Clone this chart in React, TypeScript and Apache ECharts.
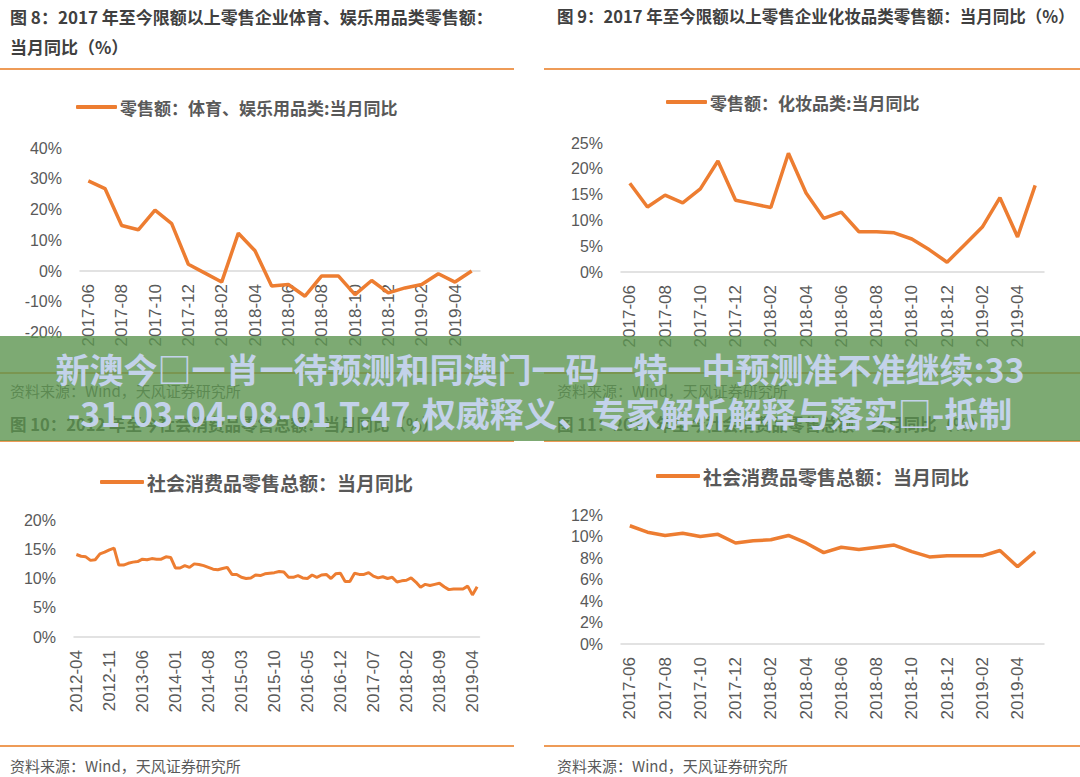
import React, { useEffect, useRef } from "react";
import * as echarts from "echarts";

function months(y: number, m: number, n: number): string[] {
  const out: string[] = [];
  for (let i = 0; i < n; i++) {
    const mm = ((m - 1 + i) % 12) + 1;
    const yy = y + Math.floor((m - 1 + i) / 12);
    out.push(`${yy}-${mm < 10 ? "0" + mm : mm}`);
  }
  return out;
}

// Categories
const catsShort = months(2017, 6, 24); // 2017-06 .. 2019-05
const catsLong = months(2012, 4, 86); // 2012-04 .. 2019-05

// Series names
const name8 = "零售额：体育、娱乐用品类:当月同比";
const name9 = "零售额：化妆品类:当月同比";
const name10 = "社会消费品零售总额：当月同比";

// Values (%)
const sportsYoY = [29.3, 26.8, 14.8, 13.4, 19.8, 15.4, 2.2, -0.7, -3.6, 12.3, 6.6, -4.9,
  -4.4, -8.2, -1.6, -1.6, -7.7, -3.1, -7.1, -5.5, -4.4, -0.9, -3.6, 0.0];
const cosmeticsYoY = [17.2, 12.6, 14.9, 13.4, 16.1, 21.5, 13.9, 13.2, 12.5, 23.0, 15.3, 10.4,
  11.6, 7.8, 7.8, 7.6, 6.4, 4.3, 1.9, 5.3, 8.7, 14.4, 6.8, 16.8];
const retailLong = [
  14.1, 13.8, 13.7, 13.1, 13.2, 14.2, 14.5, 14.9, 15.2,
  12.3, 12.3, 12.6, 12.8, 12.9, 13.3, 13.2, 13.4, 13.3, 13.3, 13.7, 13.6,
  11.8, 11.8, 12.2, 11.9, 12.5, 12.4, 12.2, 11.9, 11.6, 11.5, 11.7, 11.9,
  10.7, 10.7, 10.2, 10.0, 10.1, 10.6, 10.5, 10.8, 10.9, 11.0, 11.2, 11.1,
  10.2, 10.2, 10.5, 10.1, 10.0, 10.6, 10.2, 10.6, 10.7, 10.0, 10.8, 10.9,
  9.5, 9.5, 10.9, 10.7, 10.7, 11.0, 10.4, 10.1, 10.3, 10.0, 10.2, 9.4,
  9.6, 9.7, 10.1, 9.4, 8.5, 9.0, 8.8, 9.0, 9.2, 8.6, 8.1, 8.2,
  8.2, 8.2, 8.7, 7.2, 8.6,
];
const retailShort = [11.0, 10.4, 10.1, 10.3, 10.0, 10.2, 9.4, 9.6, 9.7, 10.1, 9.4, 8.5,
  9.0, 8.8, 9.0, 9.2, 8.6, 8.1, 8.2, 8.2, 8.2, 8.7, 7.2, 8.6];

// Texts
const titles = [
  "图 8：2017 年至今限额以上零售企业体育、娱乐用品类零售额：",
  "当月同比（%）",
  "图 9：2017 年至今限额以上零售企业化妆品类零售额：当月同比（%）",
  "图 10：2012 年至今社会消费品零售总额：当月同比（%）",
  "图 11：2017 年至今社会消费品零售总额：当月同比（%）",
];
const sourceText = "资料来源：Wind，天风证券研究所";
const bannerLines = [
  "新澳今□一肖一待预测和同澳门一码一特一中预测准不准继续:33",
  "-31-03-04-08-01 T:47,权威释义、专家解析解释与落实□-抵制",
];

const ORANGE = "#ED7D31";
const RULE = "#EE9B57";
const GRAY = "#595959";
const CJK = '"Noto Sans CJK SC", sans-serif';
const LAT = '"Liberation Sans", "Noto Sans CJK SC", sans-serif';

function xAxis(gridIndex: number, data: string[], interval: number, offset: number) {
  return {
    type: "category",
    gridIndex,
    data,
    boundaryGap: true,
    offset,
    axisLine: { show: true, onZero: false, lineStyle: { color: "#D9D9D9", width: 1.5 } },
    axisTick: { show: false },
    axisLabel: {
      interval,
      rotate: 90,
      margin: 13,
      fontSize: 17,
      color: GRAY,
      fontFamily: LAT,
    },
    splitLine: { show: false },
  };
}

function yAxis(gridIndex: number, min: number, max: number, interval: number) {
  return {
    type: "value",
    gridIndex,
    min,
    max,
    interval,
    axisLine: { show: false },
    axisTick: { show: false },
    splitLine: { show: false },
    axisLabel: { formatter: "{value}%", fontSize: 16, color: GRAY, fontFamily: LAT, margin: 18 },
  };
}

function legend(name: string, left: number, centerY: number, w: number, fs: number) {
  const lh = fs + 6;
  return {
    data: [name],
    left,
    top: centerY - lh / 2,
    padding: 0,
    icon: "roundRect",
    itemWidth: w,
    itemHeight: 4,
    textStyle: { fontSize: fs, color: GRAY, fontWeight: "bold", fontFamily: CJK, lineHeight: lh, padding: [0, 0, 0, -2] },
  };
}

function line(x1: number, x2: number, y: number) {
  return {
    type: "line",
    shape: { x1, y1: y, x2, y2: y },
    style: { stroke: RULE, lineWidth: 2 },
    silent: true,
  };
}

function text(t: string, x: number, y: number, size: number, bold: boolean, color: string, align = "left") {
  return {
    type: "text",
    x,
    y,
    style: {
      text: t,
      fontSize: size,
      fontWeight: bold ? "bold" : "normal",
      fontFamily: CJK,
      fill: color,
      textAlign: align,
      textVerticalAlign: "middle",
      verticalAlign: "middle",
    },
    silent: true,
  };
}

export default function App() {
  const ref = useRef<HTMLDivElement>(null);
  useEffect(() => {
    if (!ref.current) return;
    const chart = echarts.init(ref.current, undefined, { renderer: "svg" });
    const option: any = {
      animation: false,
      backgroundColor: "#ffffff",
      grid: [
        { left: 80, top: 148, width: 400, height: 184.5, containLabel: false, outerBoundsMode: "none" },
        { left: 621, top: 143, width: 423, height: 129, containLabel: false, outerBoundsMode: "none" },
        { left: 74, top: 520, width: 405.5, height: 117, containLabel: false, outerBoundsMode: "none" },
        { left: 621, top: 515, width: 423, height: 129, containLabel: false, outerBoundsMode: "none" },
      ],
      xAxis: [
        xAxis(0, catsShort, 1, -61.5),
        xAxis(1, catsShort, 1, 0),
        xAxis(2, catsLong, 6, 0),
        xAxis(3, catsShort, 1, 0),
      ],
      yAxis: [
        yAxis(0, -20, 40, 10),
        yAxis(1, 0, 25, 5),
        yAxis(2, 0, 20, 5),
        yAxis(3, 0, 12, 2),
      ],
      legend: [
        legend(name8, 76, 107, 41, 17),
        legend(name9, 666, 102, 41, 17),
        legend(name10, 100, 482, 44, 19),
        legend(name10, 656, 476, 44, 19),
      ],
      series: [
        { name: name8, type: "line", xAxisIndex: 0, yAxisIndex: 0, data: sportsYoY, symbol: "none",
          lineStyle: { color: ORANGE, width: 3.5 }, itemStyle: { color: ORANGE } },
        { name: name9, type: "line", xAxisIndex: 1, yAxisIndex: 1, data: cosmeticsYoY, symbol: "none",
          lineStyle: { color: ORANGE, width: 3.5 }, itemStyle: { color: ORANGE } },
        { name: name10, type: "line", xAxisIndex: 2, yAxisIndex: 2, data: retailLong, symbol: "none",
          lineStyle: { color: ORANGE, width: 3 }, itemStyle: { color: ORANGE } },
        { name: name10, type: "line", xAxisIndex: 3, yAxisIndex: 3, data: retailShort, symbol: "none",
          lineStyle: { color: ORANGE, width: 3.5 }, itemStyle: { color: ORANGE } },
      ],
      graphic: [
        text(titles[0], 10, 16, 17, true, "#404040"),
        text(titles[1], 10, 46, 17, true, "#404040"),
        text(titles[2], 557, 16, 16.5, true, "#404040"),
        line(0, 514, 69),
        line(544, 1080, 69),
        line(0, 514, 373),
        line(544, 1080, 373),
        text(sourceText, 10, 390, 15, false, GRAY),
        text(sourceText, 557, 390, 15, false, GRAY),
        text(titles[3], 10, 424, 16.5, true, "#404040"),
        text(titles[4], 557, 424, 16.5, true, "#404040"),
        line(0, 514, 441),
        line(544, 1080, 441),
        line(0, 514, 746),
        line(544, 1080, 746),
        text(sourceText, 10, 765, 15, false, GRAY),
        text(sourceText, 557, 765, 15, false, GRAY),
        {
          type: "group",
          z: 100,
          children: [
            { type: "rect", shape: { x: 0, y: 336, width: 1080, height: 105 },
              style: { fill: "rgba(92,149,80,0.8)" }, z: 100, silent: true },
            { ...text(bannerLines[0], 540, 368, 34, true, "#C3D2EA", "center"), z: 101 },
            { ...text(bannerLines[1], 540, 412, 34, true, "#C3D2EA", "center"), z: 101 },
          ],
        },
      ],
    };
    chart.setOption(option);
    return () => chart.dispose();
  }, []);
  return (
    <div
      ref={ref}
      style={{ position: "fixed", left: 0, top: 0, width: 1080, height: 777, background: "#fff" }}
    />
  );
}
